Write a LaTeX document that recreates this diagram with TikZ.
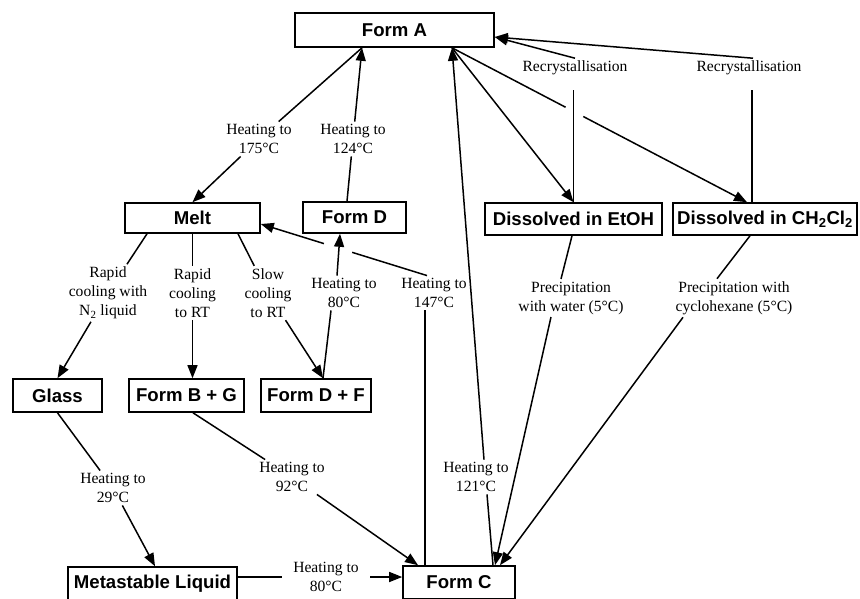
\documentclass[tikz,border=0pt]{standalone}
\usepackage{fontspec}
\setmainfont{Liberation Serif}
\setsansfont{Liberation Sans}
\usetikzlibrary{arrows.meta}
\begin{document}
\begin{tikzpicture}[x=1pt,y=-1pt,
  box/.style={draw, line width=1.6pt, inner sep=0pt, font=\sffamily\bfseries\fontsize{18.6}{22}\selectfont},
  lbl/.style={align=center, inner sep=2.5pt, font=\fontsize{15.6}{19}\selectfont},
  con/.style={line width=1.5pt},
  arr/.style={con, -{Triangle[length=13pt,width=10pt]}}]
\useasboundingbox (0,0) rectangle (860,598);

% boxes
\node[box, minimum width=199pt, minimum height=34pt] (A) at (394.5,30) {Form A};
\node[box, minimum width=135pt, minimum height=30pt] (Melt) at (192.5,218) {Melt};
\node[box, minimum width=103pt, minimum height=31pt] (FD) at (354.5,217.5) {\raisebox{-2pt}{Form D}};
\node[box, minimum width=177pt, minimum height=32pt] (E) at (573.5,219) {Dissolved in EtOH};
\node[box, minimum width=184pt, minimum height=32pt] (CH) at (765,219) {Dissolved in CH\textsubscript{2}Cl\textsubscript{2}};
\node[box, minimum width=89pt, minimum height=33pt] (Glass) at (57.5,395.5) {Glass};
\node[box, minimum width=115pt, minimum height=33pt] (FBG) at (186.5,395.5) {Form B + G};
\node[box, minimum width=110pt, minimum height=33pt] (FDF) at (316,395.5) {Form D + F};
\node[box, minimum width=169pt, minimum height=33pt] (Meta) at (152.5,583.5) {Metastable Liquid};
\node[box, minimum width=112pt, minimum height=33pt] (FC) at (459,582.5) {Form C};

% labels
\node[lbl] (L175) at (259,139) {Heating to\\175°C};
\node[lbl] (L124) at (353,139) {Heating to\\124°C};
\node[lbl] (LN2) at (108,293) {Rapid\\cooling with\\N\textsubscript{2} liquid};
\node[lbl] (LRT1) at (192.5,293) {Rapid\\cooling\\to RT};
\node[lbl] (LRT2) at (268,293) {Slow\\cooling\\to RT};
\node[lbl] (L80a) at (344,293) {Heating to\\80°C};
\node[lbl] (L147) at (434,293) {Heating to\\147°C};
\node[lbl] (LE) at (571,298) {Precipitation\\with water (5°C)};
\node[lbl] (LC) at (734,298) {Precipitation with\\cyclohexane (5°C)};
\node[lbl] (LR1) at (575,68) {Recrystallisation};
\node[lbl] (LR2) at (749,68) {Recrystallisation};
\node[lbl] (L29) at (113,488) {Heating to\\29°C};
\node[lbl] (L92) at (292,477) {Heating to\\92°C};
\node[lbl] (L121) at (476,477) {Heating to\\121°C};
\node[lbl] (L80b) at (326,577) {Heating to\\80°C};

% Form A -> Melt (175)
\draw[con] ([xshift=-32.5pt]A.south) -- (L175);
\draw[arr] (L175) -- (Melt.north);
% Form D -> Form A (124)
\draw[con] ([xshift=-7.5pt]FD.north) -- (L124);
\draw[arr] (L124) -- ([xshift=-32.5pt]A.south);
% Melt -> Glass / B+G / D+F
\draw[con] ([xshift=-45.5pt]Melt.south) -- (LN2);
\draw[arr] (LN2) -- (Glass.north);
\draw[con] (Melt.south -| LRT1.north) -- (LRT1.north);
\draw[arr] (LRT1.south) -- (LRT1.south |- FBG.north);
\draw[con] ([xshift=45.5pt]Melt.south) -- (LRT2);
\draw[arr] (LRT2) -- ([xshift=7pt]FDF.north);
% Form D+F -> Form D (80)
\draw[con] ([xshift=7pt]FDF.north) -- ([xshift=-13pt]L80a.south);
\draw[arr] ([xshift=-7pt]L80a.north) -- ([xshift=-14.5pt]FD.south);
% Form C -> Melt (147)
\draw[con] ([xshift=-34pt]FC.north) -- ([xshift=-34pt]FC.north |- L147.south);
\path ([xshift=-7pt]L147.north) -- ([yshift=-6pt]Melt.east)
  coordinate[pos=0.45] (g1) coordinate[pos=0.62] (g2);
\draw[con] ([xshift=-7pt]L147.north) -- (g1);
\draw[arr] (g2) -- ([yshift=-6pt]Melt.east);
% Form C -> Form A (121)
\draw[con] ([xshift=34pt]FC.north) -- ([xshift=11pt]L121.south);
\draw[arr] ([xshift=8pt]L121.north) -- ([xshift=57.5pt]A.south);
% Form A -> dissolved
\draw[arr] ([xshift=57.5pt]A.south) -- (E.north);
\path ([xshift=57.5pt]A.south) -- ([xshift=-18pt]CH.north)
  coordinate[pos=0.385] (h1) coordinate[pos=0.445] (h2);
\draw[con] ([xshift=57.5pt]A.south) -- (h1);
\draw[arr] (h2) -- ([xshift=-18pt]CH.north);
% Recrystallisation
\coordinate (r1) at ([yshift=-12pt]LR1.south);
\coordinate (r2) at ([yshift=-12pt]LR2.south);
\draw[con] (E.north) -- (E.north |- r1);
\draw[arr] (LR1.north) -- ([yshift=-7pt]A.east);
\draw[con] ([xshift=-13pt]CH.north) -- ([xshift=-13pt]CH.north |- r2);
\draw[arr] ([xshift=4pt]LR2.north) -- ([yshift=-7pt]A.east);
% Precipitation
\draw[con] ([xshift=-1.5pt]E.south) -- ([xshift=-10pt]LE.north);
\draw[arr] ([xshift=-20pt]LE.south) -- ([xshift=36pt]FC.north);
\draw[con] ([xshift=-15pt]CH.south) -- ([xshift=-17pt]LC.north);
\draw[arr] ([xshift=-51pt]LC.south) -- ([xshift=41pt]FC.north);
% Glass -> Metastable (29)
\draw[con] (Glass.south) -- (L29);
\draw[arr] (L29) -- ([xshift=2.5pt]Meta.north);
% B+G -> Form C (92)
\draw[con] ([xshift=6.5pt]FBG.south) -- (L92);
\draw[arr] (L92) -- ([xshift=-41pt]FC.north);
% Metastable -> Form C (80)
\draw[con] (Meta.east |- L80b.west) -- ([xshift=-9pt]L80b.west);
\draw[arr] ([xshift=9pt]L80b.east) -- (FC.west |- L80b.east);
\end{tikzpicture}
\end{document}
